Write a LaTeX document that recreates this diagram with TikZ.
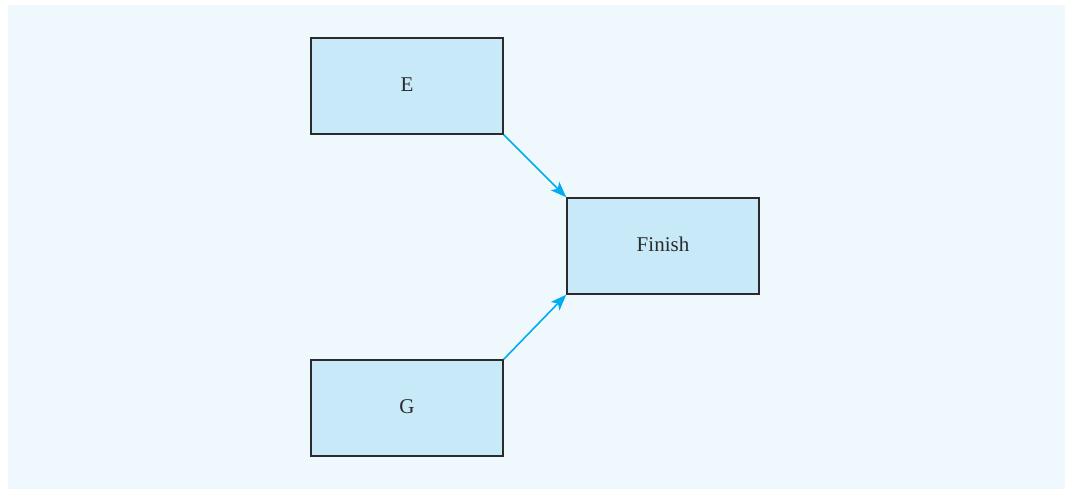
\documentclass[tikz,border=0pt]{standalone}
\usepackage{fontspec}
\setmainfont{Liberation Serif}
\definecolor{PaleBg}{HTML}{EFF8FD}
\definecolor{BoxFill}{HTML}{C7E9F8}
\definecolor{BoxLine}{HTML}{2B2B2B}
\definecolor{ArrowBlue}{HTML}{00AEEF}
\usetikzlibrary{arrows.meta, positioning}

\begin{document}
\begin{tikzpicture}[x=1pt, y=-1pt,
   task/.style={draw=BoxLine, fill=BoxFill, line width=1.4pt, minimum width=192pt,
      minimum height=96pt, inner sep=0pt, text=BoxLine, font=\fontsize{21}{24}\selectfont},
   link/.style={ArrowBlue, line width=1.6pt, -{Stealth[length=16pt, width=12pt, inset=4pt]}}]
      \useasboundingbox (0,0) rectangle (1068,489);
      % Background panel
      \fill[PaleBg] (8,5) rectangle (1065,489);
      % Activities
      \node[task] (E) at (407,86) {\raisebox{3pt}{E}};
      \node[task] (G) at (407,408) {\raisebox{3pt}{G}};
      \node[task] (fin) at (663,246) {\raisebox{3pt}{Finish}};
      % Precedence arrows
      \draw[link] (E.south east) -- (fin.north west);
      \draw[link] (G.north east) -- (fin.south west);
   \end{tikzpicture}
\end{document}
